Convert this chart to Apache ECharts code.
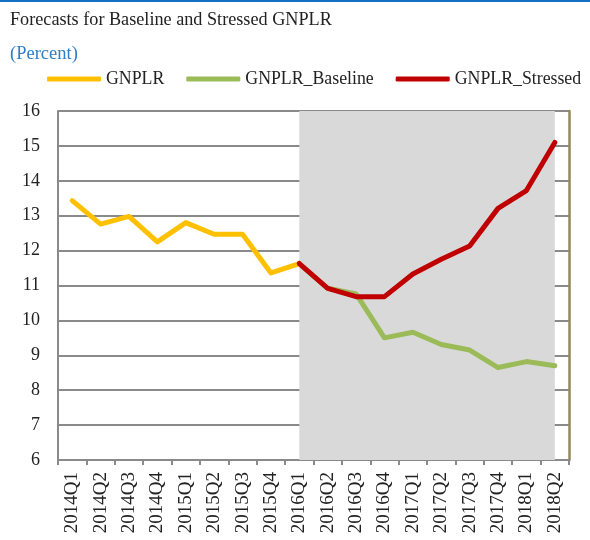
<!DOCTYPE html>
<html>
<head>
<meta charset="utf-8">
<script src="https://cdn.jsdelivr.net/npm/echarts@6/dist/echarts.min.js"></script>
<style>
  html, body { margin: 0; padding: 0; background: #ffffff; }
  #chart { width: 590px; height: 540px; }
</style>
</head>
<body>
<div id="chart"></div>
<script>
// Quarterly categories on the x axis
const quarters = [
  '2014Q1', '2014Q2', '2014Q3', '2014Q4',
  '2015Q1', '2015Q2', '2015Q3', '2015Q4',
  '2016Q1', '2016Q2', '2016Q3', '2016Q4',
  '2017Q1', '2017Q2', '2017Q3', '2017Q4',
  '2018Q1', '2018Q2'
];

// Actual ratio (history)
const gnplr = [13.43, 12.76, 12.98, 12.25, 12.80, 12.47, 12.47, 11.36, 11.63,
  null, null, null, null, null, null, null, null, null];

// Baseline scenario projection
const gnplrBaseline = [null, null, null, null, null, null, null, null, 11.63,
  10.92, 10.76, 9.50, 9.66, 9.31, 9.15, 8.65, 8.82, 8.70];

// Stressed scenario projection
const gnplrStressed = [null, null, null, null, null, null, null, null, 11.63,
  10.92, 10.68, 10.68, 11.33, 11.75, 12.13, 13.21, 13.72, 15.10];

// Projection window shading
const forecastStart = '2016Q1';
const forecastEnd = '2018Q2';

const yTicks = { min: 6, max: 16, interval: 1 };

const serif = '"Liberation Serif", "DejaVu Serif", serif';

const chart = echarts.init(document.getElementById('chart'), null, { renderer: 'canvas' });

const lineSeries = (name, data, color) => ({
  name: name,
  type: 'line',
  data: data,
  z: 3,
  showSymbol: false,
  symbol: 'none',
  connectNulls: false,
  lineStyle: { color: color, width: 5, cap: 'round', join: 'round' },
  itemStyle: { color: color },
  emphasis: { disabled: true }
});

chart.setOption({
  animation: false,
  backgroundColor: '#ffffff',
  title: [
    {
      text: 'Forecasts for Baseline and Stressed GNPLR',
      left: 5, top: 6,
      textStyle: { fontFamily: serif, fontSize: 18.2, fontWeight: 'normal', color: '#222222' }
    },
    {
      text: '(Percent)',
      left: 5, top: 40,
      textStyle: { fontFamily: serif, fontSize: 18.5, fontWeight: 'normal', color: '#2E7DC6' }
    }
  ],
  graphic: [
    { type: 'rect', left: 0, top: 0, shape: { width: 590, height: 2 }, style: { fill: '#1470C4' } }
  ],
  legend: {
    top: 65,
    left: 47,
    width: 543,
    padding: [5, 0, 5, 0],
    itemWidth: 54,
    itemHeight: 5,
    itemGap: 22,
    icon: 'roundRect',
    textStyle: { fontFamily: serif, fontSize: 17.8, color: '#222222' },
    data: ['GNPLR', 'GNPLR_Baseline', 'GNPLR_Stressed']
  },
  grid: { left: 58, right: 21, top: 111, bottom: 80, containLabel: false },
  xAxis: {
    type: 'category',
    data: quarters,
    boundaryGap: true,
    axisLine: { show: true, lineStyle: { color: '#8a8a8a', width: 2 } },
    axisTick: { show: true, length: 5, lineStyle: { color: '#8a8a8a', width: 2 } },
    axisLabel: {
      rotate: 90, margin: 12, interval: 0,
      fontFamily: serif, fontSize: 19, color: '#222222'
    },
    splitLine: { show: false }
  },
  yAxis: [
    {
      type: 'value',
      min: yTicks.min, max: yTicks.max, interval: yTicks.interval,
      axisLine: { show: true, lineStyle: { color: '#8a8a8a', width: 2 } },
      axisTick: { show: false },
      axisLabel: { fontFamily: serif, fontSize: 18, color: '#222222', margin: 18 },
      splitLine: { show: true, lineStyle: { color: '#8a8a8a', width: 2 } }
    },
    {
      type: 'value',
      position: 'right',
      min: yTicks.min, max: yTicks.max, interval: yTicks.interval,
      axisLine: { show: true, lineStyle: { color: '#948A54', width: 2.5 } },
      axisTick: { show: false },
      axisLabel: { show: false },
      splitLine: { show: false }
    }
  ],
  series: [
    {
      name: 'forecast window',
      type: 'line',
      data: [],
      z: 2,
      silent: true,
      markArea: {
        silent: true,
        itemStyle: { color: '#d9d9d9' },
        data: [[{ xAxis: forecastStart }, { xAxis: forecastEnd }]]
      }
    },
    lineSeries('GNPLR', gnplr, '#FFC000'),
    lineSeries('GNPLR_Baseline', gnplrBaseline, '#9BBB59'),
    lineSeries('GNPLR_Stressed', gnplrStressed, '#C00000')
  ]
});
</script>
</body>
</html>
